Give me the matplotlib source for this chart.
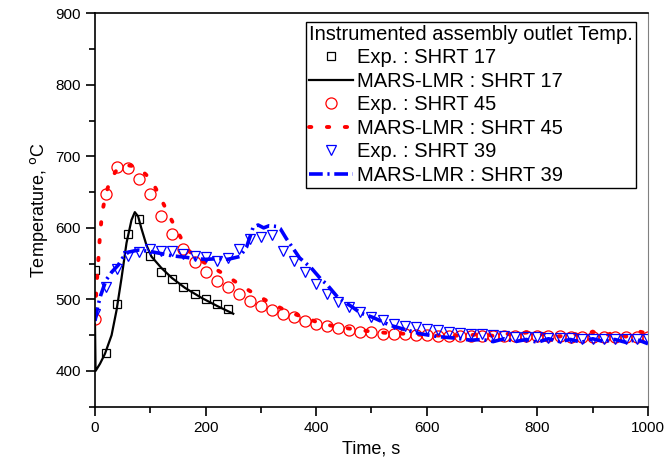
import numpy as np
import matplotlib
matplotlib.use("Agg")
import matplotlib.pyplot as plt
from matplotlib.ticker import MultipleLocator

plt.rcParams["font.family"] = ["Liberation Sans", "DejaVu Sans"]

# experimental points, every 20 s
t_exp17 = [0, 20, 40, 60, 80, 100, 120, 140, 160, 180, 200, 220, 240]
T_exp17 = [541, 425, 494, 592, 612, 561, 539, 528, 518, 507, 501, 493, 487]

t_exp = list(range(0, 1001, 20))
T_exp45 = [473, 647, 685, 684, 668, 647, 617, 591, 571, 552, 539, 526, 517, 507,
           498, 491, 485, 479, 475, 470, 466, 463, 460, 457, 455, 454, 452, 452,
           451, 450, 450, 449, 449, 449, 449, 449, 449, 449, 449, 449, 449, 449,
           449, 448, 448, 448, 448, 448, 448, 448, 448]
T_exp39 = [480, 517, 543, 561, 566, 570, 568, 567, 564, 560, 559, 553, 558, 570,
           585, 587, 590, 567, 554, 539, 522, 508, 497, 489, 482, 476, 471, 466,
           463, 461, 459, 457, 455, 453, 452, 451, 450, 449, 448, 447, 447, 446,
           446, 446, 445, 445, 445, 445, 445, 445, 444]

# MARS-LMR results
t_sim17 = [0, 1, 9, 18, 30, 39, 48, 57, 66, 72, 78, 84, 93, 102, 120, 139, 163,
           193, 223, 250]
T_sim17 = [465, 400, 410, 424, 450, 485, 530, 579, 611, 622, 616, 599, 576, 560,
           544, 530, 516, 502, 490, 480]

t_sim45 = [0, 3, 6, 9, 13, 20, 27, 40, 55, 72, 90, 101, 114, 128, 141, 156, 170,
           181, 208, 236, 265, 294, 323, 351, 382, 409, 437, 470, 500, 530, 560,
           600, 640, 680, 700, 720, 740, 760, 780, 800, 820, 840, 860, 880, 900,
           920, 940, 960, 980, 1000]
T_sim45 = [480, 520, 555, 590, 622, 648, 666, 682, 688, 686, 676, 668, 649, 627,
           607, 585, 568, 559, 547, 534, 519, 505, 493, 482, 474, 466, 462, 458,
           455, 453, 452, 450, 449, 450, 452, 449, 453, 449, 454, 449, 454, 448,
           454, 448, 455, 448, 455, 448, 456, 452]

t_sim39 = [0, 5, 10, 20, 30, 42, 50, 60, 78, 100, 120, 139, 163, 181, 200, 223,
           240, 262, 274, 286, 295, 305, 315, 328, 335, 346, 370, 391, 410, 418,
           440, 466, 480, 502, 533, 560, 588, 620, 650, 680, 700, 720, 740, 760,
           780, 800, 820, 840, 860, 880, 900, 920, 940, 960, 980, 1000]
T_sim39 = [470, 490, 505, 527, 538, 548, 558, 566, 569, 567, 564, 561, 559, 557,
           556, 557, 556, 560, 573, 601, 604, 600, 603, 602, 599, 585, 558, 544,
           527, 522, 502, 489, 481, 475, 464, 458, 452, 448, 446, 443, 444, 441,
           445, 441, 444, 440, 445, 441, 444, 440, 445, 441, 444, 440, 444, 438]

fig = plt.figure(figsize=(6.72, 4.65), dpi=100)
ax = fig.add_axes([95 / 672, 1 - 406.7 / 465, 553 / 672, 393.4 / 465])

ax.plot(t_exp17, T_exp17, "s", ms=6, mfc="none", mec="black", mew=0.9,
        label="Exp. : SHRT 17")
ax.plot(t_sim17, T_sim17, "-", color="black", lw=1.6,
        label="MARS-LMR : SHRT 17")
ax.plot(t_exp, T_exp45, "o", ms=8, mfc="none", mec="red", mew=0.9,
        label="Exp. : SHRT 45")
ax.plot(t_sim45, T_sim45, color="red", lw=2.8, linestyle=(0, (0.6, 4)),
        dash_capstyle="round", label="MARS-LMR : SHRT 45")
ax.plot(t_exp, T_exp39, "v", ms=7.5, mfc="none", mec="blue", mew=0.9,
        label="Exp. : SHRT 39")
ax.plot(t_sim39, T_sim39, color="blue", lw=2.6,
        linestyle=(0, (3.8, 1.3, 0.6, 1.3)), label="MARS-LMR : SHRT 39")

ax.set_xlim(0, 1000)
ax.set_ylim(350, 900)
ax.xaxis.set_major_locator(MultipleLocator(200))
ax.xaxis.set_minor_locator(MultipleLocator(100))
ax.yaxis.set_major_locator(MultipleLocator(100))
ax.yaxis.set_minor_locator(MultipleLocator(50))
ax.set_yticks([400, 500, 600, 700, 800, 900])
ax.tick_params(which="both", direction="out", labelsize=11, width=1.2)
ax.tick_params(which="major", length=6.5)
ax.tick_params(which="minor", length=4)
ax.tick_params(top=False, right=False)
for side in ["left", "bottom", "top"]:
    ax.spines[side].set_linewidth(1.2)
ax.spines["right"].set_color("gray")

ax.set_xlabel("Time, s", fontsize=13)
ax.set_ylabel("Temperature, $^{\\mathrm{o}}$C", fontsize=13)

leg = ax.legend(title="Instrumented assembly outlet Temp.", loc="upper right",
                bbox_to_anchor=(0.978, 0.978), borderaxespad=0, fontsize=14.5,
                title_fontsize=14.5, alignment="left", fancybox=False,
                framealpha=1, edgecolor="black", handlelength=2.2,
                handletextpad=0.2, labelspacing=0.22, borderpad=0.15)
leg.get_frame().set_linewidth(1.0)

fig.savefig("out.png", dpi=100)
